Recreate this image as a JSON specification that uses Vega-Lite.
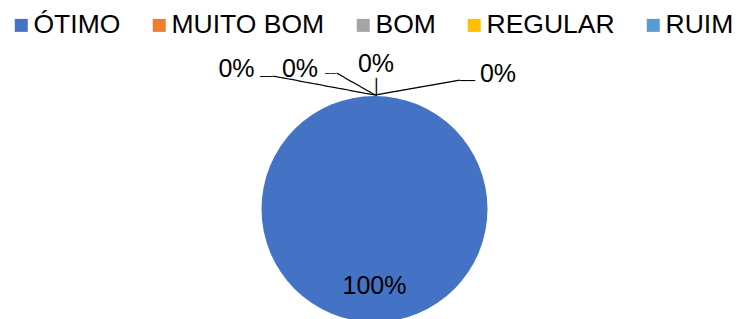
{
  "$schema": "https://vega.github.io/schema/vega-lite/v6.json",
  "width": 737,
  "height": 218,
  "autosize": {"type": "none"},
  "padding": {"left": 6, "top": 100, "right": 0, "bottom": 1},
  "background": "white",
  "config": {"view": {"stroke": null}},
  "data": {"values": [
    {"categoria": "ÓTIMO", "valor": 100, "rotulo": "100%"},
    {"categoria": "MUITO BOM", "valor": 0, "rotulo": "0%"},
    {"categoria": "BOM", "valor": 0, "rotulo": "0%"},
    {"categoria": "REGULAR", "valor": 0, "rotulo": "0%"},
    {"categoria": "RUIM", "valor": 0, "rotulo": "0%"}
  ]},
  "layer": [
    {
      "mark": {"type": "arc", "outerRadius": 113},
      "encoding": {
        "theta": {"field": "valor", "type": "quantitative", "stack": true},
        "color": {
          "field": "categoria", "type": "nominal",
          "sort": ["ÓTIMO", "MUITO BOM", "BOM", "REGULAR", "RUIM"],
          "scale": {"domain": ["ÓTIMO", "MUITO BOM", "BOM", "REGULAR", "RUIM"], "range": ["#4472C4", "#ED7D31", "#A5A5A5", "#FFC000", "#5B9BD5"]},
          "legend": {"title": null, "orient": "none", "legendX": 2, "legendY": -88, "direction": "horizontal", "symbolType": "square", "symbolSize": 169, "symbolStrokeWidth": 0, "symbolOpacity": 1, "labelFont": "Liberation Sans", "labelFontSize": 26.5, "labelColor": "black", "labelOffset": -1, "columnPadding": 25, "labelLimit": 400, "padding": 0}
        }
      }
    },
    {
      "transform": [{"filter": "datum.categoria === 'ÓTIMO'"}],
      "mark": {"type": "text", "font": "Liberation Sans", "fontSize": 25, "color": "black", "align": "center", "baseline": "alphabetic"},
      "encoding": {"theta": {"field": "valor", "type": "quantitative", "stack": true}, "radius": {"value": 85}, "text": {"field": "rotulo"}}
    },
    {
      "transform": [{"filter": "datum.categoria === 'MUITO BOM'"}],
      "mark": {"type": "text", "font": "Liberation Sans", "fontSize": 25, "color": "black", "align": "center", "baseline": "alphabetic", "dx": -138, "dy": -19},
      "encoding": {"theta": {"field": "valor", "type": "quantitative", "stack": true}, "radius": {"value": 113}, "text": {"field": "rotulo"}}
    },
    {
      "transform": [{"filter": "datum.categoria === 'BOM'"}],
      "mark": {"type": "text", "font": "Liberation Sans", "fontSize": 25, "color": "black", "align": "center", "baseline": "alphabetic", "dx": -74.5, "dy": -19},
      "encoding": {"theta": {"field": "valor", "type": "quantitative", "stack": true}, "radius": {"value": 113}, "text": {"field": "rotulo"}}
    },
    {
      "transform": [{"filter": "datum.categoria === 'REGULAR'"}],
      "mark": {"type": "text", "font": "Liberation Sans", "fontSize": 25, "color": "black", "align": "center", "baseline": "alphabetic", "dx": 1.5, "dy": -24},
      "encoding": {"theta": {"field": "valor", "type": "quantitative", "stack": true}, "radius": {"value": 113}, "text": {"field": "rotulo"}}
    },
    {
      "transform": [{"filter": "datum.categoria === 'RUIM'"}],
      "mark": {"type": "text", "font": "Liberation Sans", "fontSize": 25, "color": "black", "align": "center", "baseline": "alphabetic", "dx": 123.5, "dy": -14},
      "encoding": {"theta": {"field": "valor", "type": "quantitative", "stack": true}, "radius": {"value": 113}, "text": {"field": "rotulo"}}
    },
    {
      "transform": [{"filter": "datum.categoria === 'MUITO BOM'"}],
      "mark": {"type": "text", "font": "DejaVu Sans Mono", "fontSize": 14.3, "color": "black", "align": "right", "baseline": "middle", "angle": 10.6},
      "encoding": {"theta": {"field": "valor", "type": "quantitative", "stack": true}, "radius": {"value": 113}, "text": {"value": "────────────"}}
    },
    {
      "transform": [{"filter": "datum.categoria === 'MUITO BOM'"}],
      "mark": {"type": "text", "font": "DejaVu Sans Mono", "fontSize": 10.8, "color": "black", "align": "right", "baseline": "middle", "dx": -101.5, "dy": -19},
      "encoding": {"theta": {"field": "valor", "type": "quantitative", "stack": true}, "radius": {"value": 113}, "text": {"value": "──"}}
    },
    {
      "transform": [{"filter": "datum.categoria === 'BOM'"}],
      "mark": {"type": "text", "font": "DejaVu Sans Mono", "fontSize": 14.7, "color": "black", "align": "right", "baseline": "middle", "angle": 29.8},
      "encoding": {"theta": {"field": "valor", "type": "quantitative", "stack": true}, "radius": {"value": 113}, "text": {"value": "─────"}}
    },
    {
      "transform": [{"filter": "datum.categoria === 'BOM'"}],
      "mark": {"type": "text", "font": "DejaVu Sans Mono", "fontSize": 9.1, "color": "black", "align": "right", "baseline": "middle", "dx": -38.5, "dy": -22},
      "encoding": {"theta": {"field": "valor", "type": "quantitative", "stack": true}, "radius": {"value": 113}, "text": {"value": "──"}}
    },
    {
      "transform": [{"filter": "datum.categoria === 'REGULAR'"}],
      "mark": {"type": "text", "font": "DejaVu Sans Mono", "fontSize": 14.95, "color": "black", "align": "right", "baseline": "middle", "angle": 90},
      "encoding": {"theta": {"field": "valor", "type": "quantitative", "stack": true}, "radius": {"value": 113}, "text": {"value": "──"}}
    },
    {
      "transform": [{"filter": "datum.categoria === 'RUIM'"}],
      "mark": {"type": "text", "font": "DejaVu Sans Mono", "fontSize": 14.4, "color": "black", "align": "left", "baseline": "middle", "angle": -9.95},
      "encoding": {"theta": {"field": "valor", "type": "quantitative", "stack": true}, "radius": {"value": 113}, "text": {"value": "──────────"}}
    },
    {
      "transform": [{"filter": "datum.categoria === 'RUIM'"}],
      "mark": {"type": "text", "font": "DejaVu Sans Mono", "fontSize": 12.5, "color": "black", "align": "left", "baseline": "middle", "dx": 85.5, "dy": -15},
      "encoding": {"theta": {"field": "valor", "type": "quantitative", "stack": true}, "radius": {"value": 113}, "text": {"value": "──"}}
    }
  ]
}
